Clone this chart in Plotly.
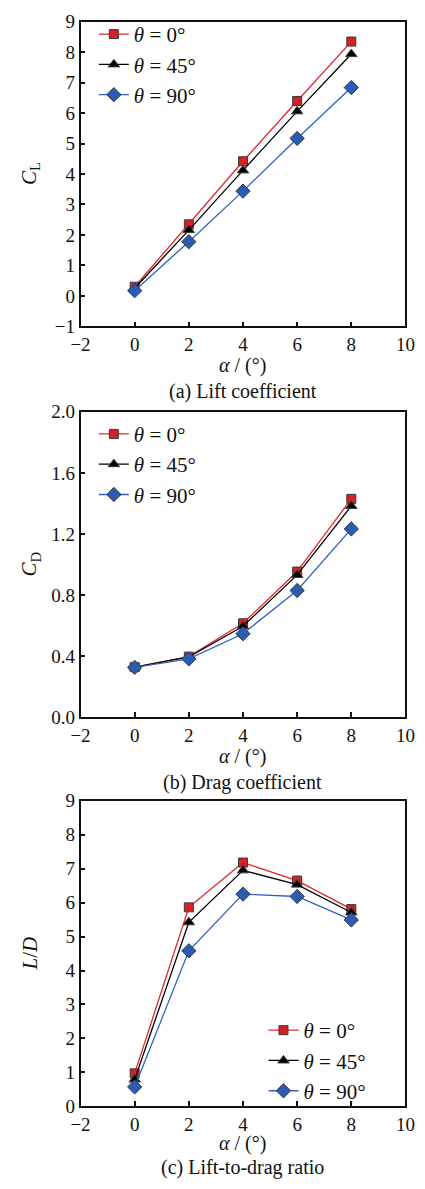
import plotly.graph_objects as go

alpha = [0, 2, 4, 6, 8]
labels = ["<i>θ</i> = 0°", "<i>θ</i> = 45°", "<i>θ</i> = 90°"]

cl_0 = [0.30, 2.35, 4.42, 6.40, 8.35]
cl_45 = [0.25, 2.16, 4.12, 6.06, 7.94]
cl_90 = [0.17, 1.78, 3.44, 5.17, 6.84]

cd_0 = [0.328, 0.397, 0.615, 0.954, 1.430]
cd_45 = [0.328, 0.395, 0.596, 0.932, 1.383]
cd_90 = [0.327, 0.382, 0.547, 0.830, 1.233]

ld_0 = [0.97, 5.86, 7.18, 6.65, 5.81]
ld_45 = [0.79, 5.42, 6.95, 6.53, 5.71]
ld_90 = [0.57, 4.58, 6.25, 6.18, 5.49]

FONT = "Liberation Serif, Times New Roman, serif"
W, H = 425, 1189

line_colors = ["#e3262b", "#000000", "#2f62c0"]
fill_colors = ["#d42027", "#000000", "#2a5cb5"]
symbols = ["square", "triangle-up", "diamond"]
sizes = [9, 10, 11]

def px_y(p):
    return 1 - p / H

panels = [
    dict(series=[cl_0, cl_45, cl_90], yr=[-1, 9], dt=1, fmt="d", top=12, bot=322,
         ytitle="<i>C</i><sub>L</sub>", cap="(a) Lift coefficient", xt=362, ct=388,
         leg=dict(x=88 / W, y=px_y(4), xanchor="left", yanchor="top")),
    dict(series=[cd_0, cd_45, cd_90], yr=[0, 2.0], dt=0.4, fmt=".1f", top=409, bot=720,
         ytitle="<i>C</i><sub>D</sub>", cap="(b) Drag coefficient", xt=760, ct=786,
         leg=dict(x=88 / W, y=px_y(411), xanchor="left", yanchor="top")),
    dict(series=[ld_0, ld_45, ld_90], yr=[0, 9], dt=1, fmt="d", top=805, bot=1116,
         ytitle="<i>L</i>/<i>D</i>", cap="(c) Lift-to-drag ratio", xt=1154, ct=1178,
         leg=dict(x=266 / W, y=px_y(1018), xanchor="left", yanchor="top")),
]

fig = go.Figure()
annotations = []
layout = {}
for i, p in enumerate(panels):
    k = "" if i == 0 else str(i + 1)
    legname = "legend" + k
    for j in range(3):
        fig.add_trace(go.Scatter(
            x=alpha, y=p["series"][j], name=labels[j], mode="lines+markers",
            line=dict(color=line_colors[j], width=1.3),
            marker=dict(symbol=symbols[j], size=sizes[j], color=fill_colors[j],
                        line=dict(color="#3a3a3a", width=1)),
            xaxis="x" + k, yaxis="y" + k, legend=legname,
        ))
    dom_y = [px_y(p["bot"]), px_y(p["top"])]
    axcommon = dict(showline=True, linecolor="#111", linewidth=1.6, mirror=True,
                    ticks="inside", ticklen=5, tickwidth=1.6, tickcolor="#111",
                    showgrid=False, zeroline=False,
                    tickfont=dict(family=FONT, size=19, color="#111"))
    layout["xaxis" + k] = dict(axcommon, domain=[74 / W, 415 / W], range=[-2, 10],
                               tick0=-2, dtick=2, anchor="y" + k, ticklabelstandoff=0)
    layout["yaxis" + k] = dict(axcommon, domain=dom_y, range=p["yr"], tick0=0,
                               dtick=p["dt"], tickformat=p["fmt"], anchor="x" + k)
    layout[legname] = dict(p["leg"], bgcolor="rgba(0,0,0,0)", borderwidth=0,
                           font=dict(family=FONT, size=21, color="#111"),
                           itemwidth=30, tracegroupgap=0)
    common_ann = dict(xref="paper", yref="paper", showarrow=False,
                      xanchor="center", yanchor="middle", borderpad=0,
                      font=dict(family=FONT, size=20, color="#111"))
    annotations.append(dict(common_ann, text="<i>α</i> / (°)",
                            x=(74 + 415) / 2 / W, y=px_y(p["xt"])))
    annotations.append(dict(common_ann, text=p["cap"],
                            x=(74 + 415) / 2 / W, y=px_y(p["ct"])))
    annotations.append(dict(common_ann, text=p["ytitle"], x=21 / W,
                            y=px_y((p["top"] + p["bot"]) / 2), textangle=-90,
                            font=dict(family=FONT, size=21, color="#111")))

fig.update_layout(width=W, height=H, margin=dict(l=0, r=0, t=0, b=0),
                  paper_bgcolor="white", plot_bgcolor="white",
                  showlegend=True, annotations=annotations, **layout)
fig.write_html("out.html")
